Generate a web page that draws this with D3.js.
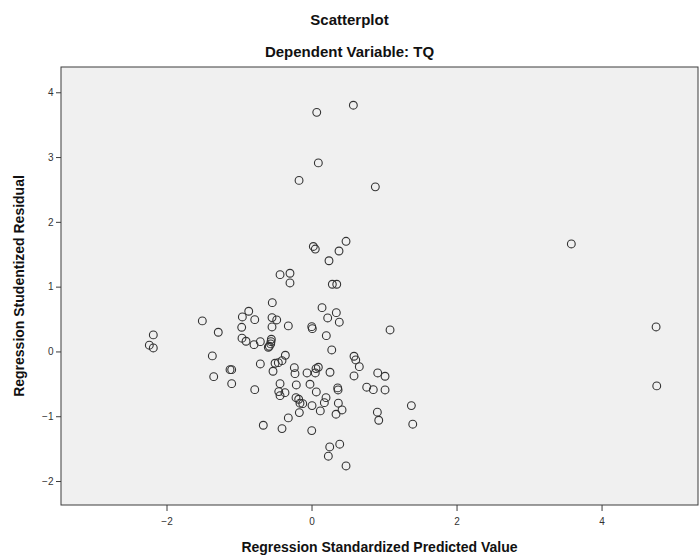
<!DOCTYPE html>
<html><head><meta charset="utf-8">
<script src="https://cdn.jsdelivr.net/npm/d3@7"></script>
<style>body{margin:0;background:#fff}svg{display:block}</style>
</head><body>
<script>
const titleText = "Scatterplot";
const subtitleText = "Dependent Variable: TQ";
const xLabel = "Regression Standardized Predicted Value";
const yLabel = "Regression Studentized Residual";
const xTicks = [-2, 0, 2, 4];
const yTicks = [-2, -1, 0, 1, 2, 3, 4];
const predicted = [
 0.072,0.577,0.094,-0.172,0.880,0.025,0.052,0.476,0.379,0.241,-0.434,-0.297,
 3.583,4.752,4.761,-2.182,-2.237,-2.182,
 -0.297,0.287,0.348,-0.541,0.145,0.342,-0.866,-0.954,-0.783,-0.545,-0.480,0.223,0.383,-1.506,-1.286,-0.963,-0.545,-0.320,0.003,0.011,1.083,0.204,
 -0.959,-0.903,-0.793,-0.706,-0.554,-0.559,-0.563,-0.582,-0.596,0.279,-1.368,-0.361,0.586,0.610,0.659,-0.706,-0.503,-0.458,-0.407,-0.531,
 -1.124,-1.101,-1.349,-1.101,-0.237,-0.228,-0.062,0.062,0.094,0.052,0.255,0.586,0.913,1.014,-0.783,-0.434,-0.210,-0.021,0.361,0.366,
 -0.452,-0.434,-0.366,0.066,0.761,0.852,1.014,-0.214,-0.177,-0.159,-0.121,-0.168,0.007,0.121,0.177,0.200,0.370,0.421,0.338,0.908,
 0.927,1.377,1.396,-0.320,-0.665,-0.407,0.003,0.251,0.389,0.232,0.476
];
const residual = [
 3.69,3.80,2.91,2.64,2.54,1.62,1.58,1.70,1.55,1.40,1.185,1.207,
 1.659,0.378,-0.532,0.255,0.096,0.054,
 1.057,1.037,1.037,0.753,0.676,0.599,0.620,0.532,0.491,0.522,0.486,0.517,0.451,0.471,0.296,0.373,0.378,0.394,0.383,0.352,0.332,0.244,
 0.204,0.157,0.105,0.151,0.188,0.151,0.116,0.080,0.065,0.023,-0.069,-0.059,-0.074,-0.131,-0.235,-0.193,-0.182,-0.173,-0.142,-0.306,
 -0.281,-0.281,-0.389,-0.497,-0.250,-0.343,-0.332,-0.265,-0.244,-0.332,-0.321,-0.378,-0.332,-0.383,-0.590,-0.497,-0.517,-0.506,-0.563,-0.594,
 -0.620,-0.682,-0.636,-0.625,-0.552,-0.590,-0.594,-0.713,-0.738,-0.799,-0.806,-0.944,-0.836,-0.918,-0.790,-0.713,-0.799,-0.903,-0.969,-0.938,
 -1.062,-0.836,-1.123,-1.026,-1.139,-1.191,-1.222,-1.474,-1.432,-1.617,-1.767
];

const W = 699, H = 558;
const m = {left: 61, right: 1, top: 67, bottom: 53};
const svg = d3.select("body").append("svg").attr("width", W).attr("height", H);
const x = d3.scaleLinear().domain([-3.455, 5.33]).range([m.left, W - m.right]);
const y = d3.scaleLinear().domain([-2.37, 4.39]).range([H - m.bottom, m.top]);

svg.append("rect").attr("x", m.left).attr("y", m.top)
  .attr("width", W - m.right - m.left).attr("height", H - m.bottom - m.top)
  .attr("fill", "#f0f0f0").attr("stroke", "#3c3c3c").attr("stroke-width", 1);

const font = "Arial, 'Liberation Sans', sans-serif";

const gx = svg.append("g").attr("transform", `translate(0,${H - m.bottom})`)
  .call(d3.axisBottom(x).tickValues(xTicks).tickSize(6).tickSizeOuter(0).tickFormat(d3.format("d")));
const gy = svg.append("g").attr("transform", `translate(${m.left},0)`)
  .call(d3.axisLeft(y).tickValues(yTicks).tickSize(5).tickSizeOuter(0).tickFormat(d3.format("d")));
[gx, gy].forEach(g => {
  g.select(".domain").remove();
  g.selectAll(".tick line").attr("stroke", "#3c3c3c");
  g.selectAll(".tick text").attr("fill", "#333").style("font-family", font).style("font-size", "10px");
});
gx.selectAll(".tick text").attr("dy", "1.1em");
gy.selectAll(".tick text").attr("dx", "0.05em");

const pts = predicted.map((v, i) => [v, residual[i]]);
svg.append("g").selectAll("circle").data(pts).join("circle")
  .attr("cx", d => x(d[0])).attr("cy", d => y(d[1])).attr("r", 3.9)
  .attr("fill", "none").attr("stroke", "#333").attr("stroke-width", 1.1);

svg.append("text").attr("x", 349.5).attr("y", 25).attr("text-anchor", "middle")
  .style("font-family", font).style("font-weight", "bold").style("font-size", "15px").attr("fill", "#111").text(titleText);
svg.append("text").attr("x", 349.5).attr("y", 57).attr("text-anchor", "middle")
  .style("font-family", font).style("font-weight", "bold").style("font-size", "15px").attr("fill", "#111").text(subtitleText);
svg.append("text").attr("x", (m.left + W - m.right) / 2).attr("y", 552).attr("text-anchor", "middle")
  .style("font-family", font).style("font-weight", "bold").style("font-size", "14px").attr("fill", "#111").text(xLabel);
svg.append("text").attr("transform", `translate(24,${(m.top + H - m.bottom) / 2}) rotate(-90)`).attr("text-anchor", "middle")
  .style("font-family", font).style("font-weight", "bold").style("font-size", "14px").attr("fill", "#111").text(yLabel);
</script>
</body></html>
